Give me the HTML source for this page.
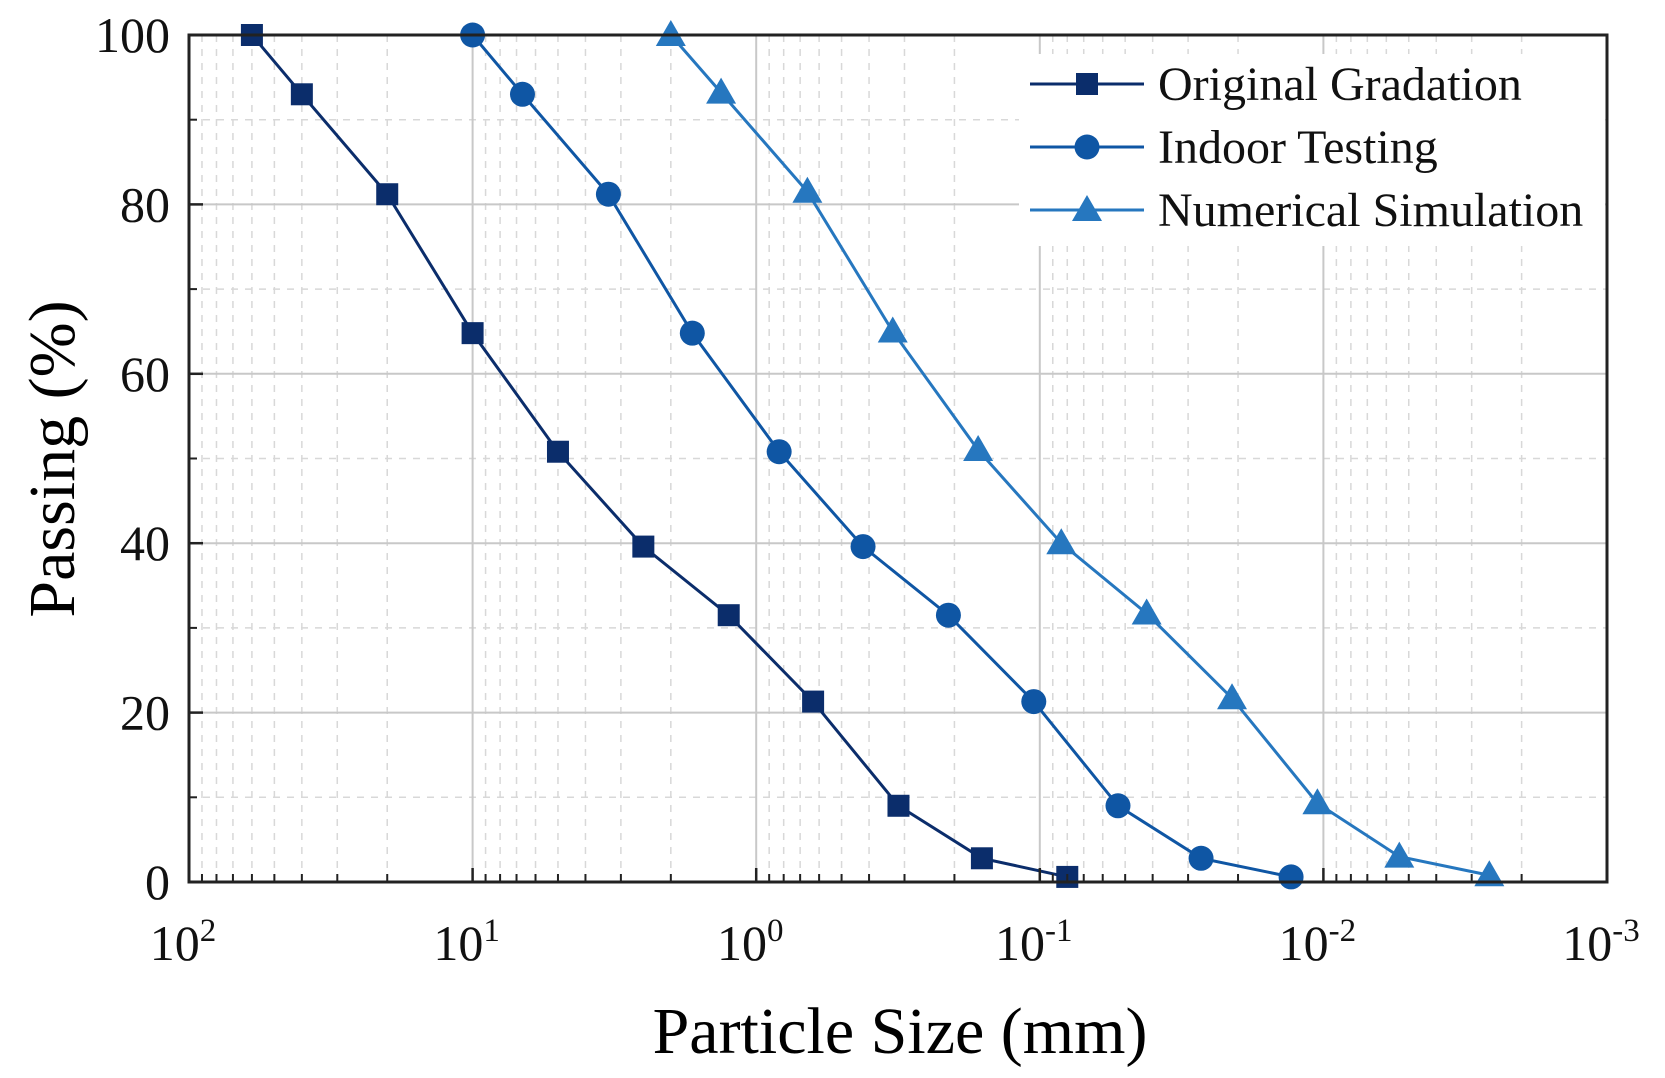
<!DOCTYPE html>
<html><head><meta charset="utf-8"><style>
html,body{margin:0;padding:0;background:#fff;}
svg{display:block;font-family:"Liberation Serif",serif;}
</style></head><body>
<svg id="chart" width="1665" height="1078" viewBox="0 0 1665 1078" xmlns="http://www.w3.org/2000/svg">
<g id="grid"></g>
<g id="series"></g>
<rect x="189" y="35" width="1418" height="847" fill="none" stroke="#222" stroke-width="3"/>
<g id="ticks"></g>
<text x="900" y="1053" font-size="66" text-anchor="middle">Particle Size (mm)</text>
<text transform="translate(74,459) rotate(-90)" font-size="66" text-anchor="middle">Passing (%)</text>
<g id="legend"></g>
</svg>
<script>
const sizesOriginal=[60,40,20,10,5,2.5,1.25,0.63,0.315,0.16,0.08];
const passOriginal=[100,93,81.2,64.8,50.8,39.6,31.5,21.3,9,2.8,0.6];
const sizesIndoor=[10,6.67,3.32,1.68,0.83,0.42,0.21,0.105,0.053,0.027,0.013];
const passIndoor=[100,93,81.2,64.8,50.8,39.6,31.5,21.3,9,2.8,0.6];
const sizesNumerical=[2.0,1.33,0.66,0.33,0.165,0.084,0.042,0.021,0.0105,0.0054,0.0026];
const passNumerical=[100,93.2,81.5,65,51,40,31.7,21.7,9.3,3,0.8];
const yTicks=[0,20,40,60,80,100];
const xExps=[2,1,0,-1,-2,-3];
const seriesNames=["Original Gradation","Indoor Testing","Numerical Simulation"];

const L=189,R=1607,T=35,B=882;
const NS="http://www.w3.org/2000/svg";
function xs(v){return L+(2-Math.log10(v))*(R-L)/5;}
function ys(v){return B-v*(B-T)/100;}
function mk(tag,attrs,parent){const e=document.createElementNS(NS,tag);for(const k in attrs)e.setAttribute(k,attrs[k]);parent.appendChild(e);return e;}
const grid=document.getElementById('grid'),ticks=document.getElementById('ticks'),ser=document.getElementById('series'),leg=document.getElementById('legend');

for(let d=2;d>-3;d--){for(let m=2;m<=9;m++){const v=m*Math.pow(10,d-1);const x=xs(v);
 const g=mk('line',{x1:x,x2:x,y1:T,y2:B,stroke:'#d8d8d8','stroke-width':1.5,'stroke-dasharray':'7,7'},grid);
 
 const t=mk('line',{x1:x,x2:x,y1:B,y2:B-8,stroke:'#222','stroke-width':2},ticks);
 }}
for(let v=10;v<100;v+=20){const y=ys(v);
 const g=mk('line',{x1:L,x2:R,y1:y,y2:y,stroke:'#d8d8d8','stroke-width':1.5,'stroke-dasharray':'7,7'},grid);
 
 const t=mk('line',{x1:L,x2:L+8,y1:y,y2:y,stroke:'#222','stroke-width':2},ticks);
 }
xExps.forEach(e=>{const x=xs(Math.pow(10,e));
 if(e<2&&e>-3){const g=mk('line',{x1:x,x2:x,y1:T,y2:B,stroke:'#c8c8c8','stroke-width':2},grid);
 }
 const t=mk('line',{x1:x,x2:x,y1:B,y2:B-14,stroke:'#222','stroke-width':2.5},ticks);
 
 const tx=mk('text',{x:x-6,y:960,'font-size':50,'text-anchor':'middle',fill:'#111'},ticks);
 
 tx.textContent='10';const sp=mk('tspan',{dy:-19,'font-size':33},tx);sp.textContent=String(e);});
yTicks.forEach(v=>{const y=ys(v);
 if(v>0&&v<100){const g=mk('line',{x1:L,x2:R,y1:y,y2:y,stroke:'#c8c8c8','stroke-width':2},grid);
 }
 const t=mk('line',{x1:L,x2:L+14,y1:y,y2:y,stroke:'#222','stroke-width':2.5},ticks);
 
 const tx=mk('text',{x:170,y:y+17,'font-size':50,'text-anchor':'end',fill:'#111'},ticks);
 
 tx.textContent=String(v);});

function marker(kind,x,y,color,parent,sz){
 let e;
 if(kind==='square'){e=mk('rect',{x:x-sz,y:y-sz,width:2*sz,height:2*sz,fill:color},parent);}
 else if(kind==='circle'){e=mk('circle',{cx:x,cy:y,r:sz+1.5,fill:color},parent);}
 else {e=mk('polygon',{points:`${x},${y-sz-4} ${x-sz-4},${y+sz} ${x+sz+4},${y+sz}`,fill:color},parent);}
 return e;}

const defs=[[sizesOriginal,passOriginal,'#0b2d6b','square'],[sizesIndoor,passIndoor,'#0f56a4','circle'],[sizesNumerical,passNumerical,'#2677bf','triangle']];
defs.forEach((d,i)=>{
 const g=mk('g',{},ser);
 const pts=d[0].map((s,j)=>xs(s)+','+ys(d[1][j])).join(' ');
 const pl=mk('polyline',{points:pts,fill:'none',stroke:d[2],'stroke-width':3},g);
 
 d[0].forEach((s,j)=>{const m=marker(d[3],xs(s),ys(d[1][j]),d[2],g,11);
  });
});

const bg=mk('rect',{x:1019,y:54,width:586,height:192,fill:'#fff'},leg);

defs.forEach((d,i)=>{const y=84+i*63;
 const g=mk('g',{},leg);
 mk('line',{x1:1030,x2:1144,y1:y,y2:y,stroke:d[2],'stroke-width':3},g);
 marker(d[3],1087,y,d[2],g,11);
 const t=mk('text',{x:1158,y:y+16,'font-size':48,fill:'#111'},g);
 
 t.textContent=seriesNames[i];});
</script>
</body></html>
